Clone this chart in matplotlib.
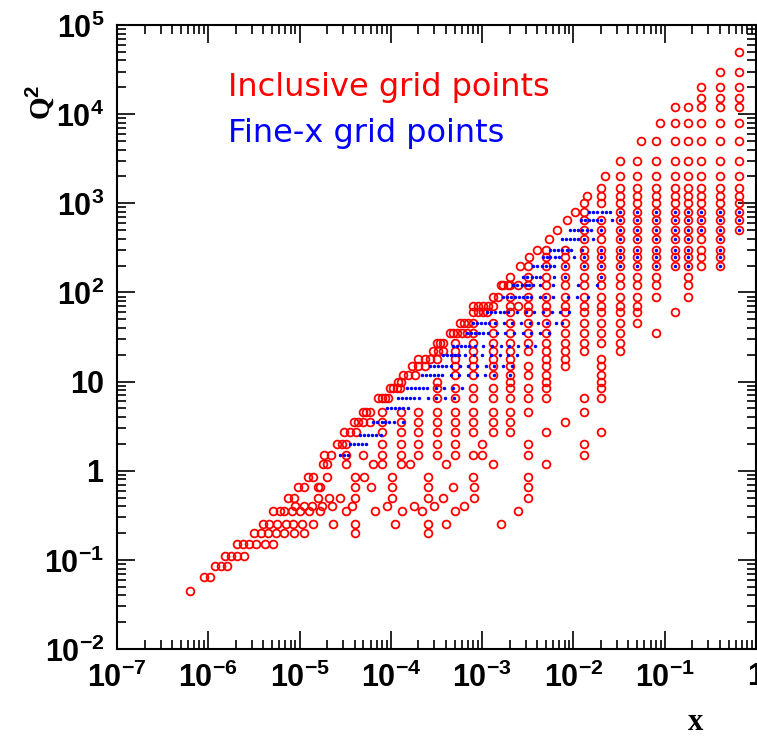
import numpy as np
import matplotlib
matplotlib.use("Agg")
import matplotlib.pyplot as plt
from matplotlib.ticker import LogLocator, NullFormatter, FuncFormatter

plt.rcParams['mathtext.fontset'] = 'custom'
plt.rcParams['mathtext.rm'] = 'Liberation Sans:bold'
plt.rcParams['mathtext.bf'] = 'Liberation Sans:bold'
plt.rcParams['mathtext.it'] = 'Liberation Sans:bold'

# inclusive grid: one Q2 row and the x values read on that row
incl_q2 = [50000, 30000, 20000, 15000, 12000, 8000, 5000, 3000, 2000, 1500,
           1200, 1000, 800, 650, 500, 400, 300, 250, 200, 150,
           120, 90, 70, 60, 45, 35, 27, 22, 18, 15,
           12, 10, 8.5, 6.5, 4.5, 3.5, 2.7, 2, 1.5, 1.2,
           0.85, 0.65, 0.5, 0.4, 0.35, 0.25, 0.2, 0.15, 0.11, 0.085,
           0.065, 0.045]
incl_x = [
    [0.65],
    [0.40, 0.65],
    [0.25, 0.40, 0.65],
    [0.25, 0.40, 0.65],
    [0.13, 0.18, 0.25, 0.40, 0.65],
    [0.088, 0.13, 0.18, 0.25, 0.40, 0.65],
    [0.055, 0.08, 0.13, 0.18, 0.25, 0.40, 0.65],
    [0.032, 0.05, 0.08, 0.13, 0.18, 0.25, 0.40, 0.65],
    [0.022, 0.032, 0.05, 0.08, 0.13, 0.18, 0.25, 0.40, 0.65],
    [0.02, 0.032, 0.05, 0.08, 0.13, 0.18, 0.25, 0.40, 0.65],
    [0.014, 0.02, 0.032, 0.05, 0.08, 0.13, 0.18, 0.25, 0.40, 0.65],
    [0.013, 0.02, 0.032, 0.05, 0.08, 0.13, 0.18, 0.25, 0.40, 0.65],
    [0.0105, 0.013, 0.032, 0.05, 0.08, 0.13, 0.18, 0.25, 0.40, 0.65],
    [0.0086, 0.013, 0.02, 0.032, 0.05, 0.08, 0.13, 0.18, 0.25, 0.40, 0.65],
    [0.0066, 0.013, 0.02, 0.032, 0.05, 0.08, 0.13, 0.18, 0.25, 0.40, 0.65],
    [0.0054, 0.013, 0.02, 0.032, 0.05, 0.08, 0.13, 0.18, 0.25, 0.40],
    [0.004, 0.005, 0.008, 0.013, 0.02, 0.032, 0.05, 0.08, 0.13, 0.18, 0.25, 0.40],
    [0.0033, 0.005, 0.008, 0.013, 0.02, 0.032, 0.05, 0.08, 0.13, 0.18, 0.25, 0.40],
    [0.0026, 0.0032, 0.005, 0.008, 0.013, 0.02, 0.032, 0.05, 0.08, 0.13, 0.18, 0.25, 0.40],
    [0.002, 0.0032, 0.005, 0.008, 0.013, 0.02, 0.032, 0.05, 0.08, 0.18],
    [0.0016, 0.0017, 0.0019, 0.002, 0.0025, 0.0032, 0.005, 0.008, 0.013, 0.02, 0.032, 0.05, 0.08, 0.18],
    [0.0013, 0.0015, 0.002, 0.0032, 0.005, 0.008, 0.013, 0.02, 0.032, 0.05, 0.08, 0.18],
    [8.0e-4, 9.0e-4, 1.02e-3, 1.16e-3, 1.3e-3, 2e-3, 2.5e-3, 3.2e-3, 5e-3, 8e-3, 0.013, 0.02, 0.032, 0.05],
    [8.0e-4, 9.0e-4, 1.01e-3, 1.13e-3, 2e-3, 3.2e-3, 5e-3, 8e-3, 0.013, 0.02, 0.032, 0.05, 0.13],
    [5.7e-4, 6.35e-4, 7.0e-4, 8.0e-4, 1.3e-3, 2e-3, 3.2e-3, 5e-3, 8e-3, 0.013, 0.02, 0.032, 0.05],
    [4.4e-4, 4.8e-4, 5.25e-4, 6.0e-4, 6.8e-4, 8e-4, 1.3e-3, 2e-3, 3.2e-3, 5e-3, 8e-3, 0.013, 0.02, 0.032, 0.08],
    [3.2e-4, 3.45e-4, 3.75e-4, 5e-4, 8e-4, 1.3e-3, 2e-3, 3.2e-3, 5e-3, 8e-3, 0.013, 0.02, 0.032],
    [2.9e-4, 3.3e-4, 3.75e-4, 5e-4, 8e-4, 1.3e-3, 2e-3, 3.2e-3, 5e-3, 8e-3, 0.013, 0.032],
    [2.0e-4, 2.36e-4, 2.68e-4, 3.2e-4, 5e-4, 8e-4, 1.3e-3, 2e-3, 5e-3, 8e-3, 0.02],
    [1.7e-4, 2.0e-4, 2.36e-4, 5e-4, 8e-4, 1.3e-3, 2e-3, 3.2e-3, 5e-3, 8e-3, 0.02],
    [1.37e-4, 1.55e-4, 1.84e-4, 5e-4, 8e-4, 1.3e-3, 2e-3, 3.2e-3, 5e-3, 0.02],
    [1.2e-4, 1.3e-4, 3.2e-4, 2e-3, 5e-3, 0.02],
    [9.8e-5, 1.06e-4, 1.16e-4, 1.26e-4, 3.2e-4, 5e-4, 8e-4, 1.3e-3, 2e-3, 3.2e-3, 5e-3, 0.02],
    [7.3e-5, 7.9e-5, 8.6e-5, 9.4e-5, 3.2e-4, 5e-4, 8e-4, 1.3e-3, 2e-3, 3.2e-3, 5e-3, 0.013, 0.02],
    [5.0e-5, 5.4e-5, 5.9e-5, 7.9e-5, 1.3e-4, 2e-4, 3.2e-4, 5e-4, 8e-4, 1.3e-3, 2e-3, 3.2e-3, 0.013],
    [3.9e-5, 4.4e-5, 5.0e-5, 5.9e-5, 8e-5, 1.3e-4, 2e-4, 3.2e-4, 5e-4, 8e-4, 1.3e-3, 2e-3, 8e-3],
    [3.1e-5, 3.6e-5, 4.2e-5, 8e-5, 1.3e-4, 2e-4, 3.2e-4, 5e-4, 8e-4, 1.3e-3, 2e-3, 5e-3, 0.02],
    [2.55e-5, 2.9e-5, 3.2e-5, 8e-5, 1.3e-4, 2e-4, 3.2e-4, 5e-4, 1.0e-3, 3.2e-3, 0.013],
    [1.87e-5, 2.2e-5, 3.2e-5, 5e-5, 8e-5, 1.3e-4, 2e-4, 3.2e-4, 5e-4, 8e-4, 1.0e-3, 3.2e-3, 0.013],
    [1.8e-5, 2.0e-5, 3.2e-5, 6.4e-5, 8e-5, 1.3e-4, 1.6e-4, 4.0e-4, 1.3e-3, 5e-3],
    [1.25e-5, 1.4e-5, 2.0e-5, 4.05e-5, 5.1e-5, 1.02e-4, 2.55e-4, 8.0e-4, 3.2e-3],
    [9.7e-6, 1.13e-5, 1.6e-5, 1.67e-5, 4.05e-5, 6.05e-5, 1.02e-4, 2.55e-4, 4.8e-4, 8.1e-4, 3.2e-3],
    [7.4e-6, 8.7e-6, 1.6e-5, 2.1e-5, 2.8e-5, 4.05e-5, 1.02e-4, 2.55e-4, 3.75e-4, 8.1e-4, 3.2e-3],
    [9.0e-6, 1.12e-5, 1.36e-5, 1.74e-5, 2.24e-5, 3.75e-5, 9.0e-5, 1.8e-4, 2.96e-4, 6.4e-4],
    [5.15e-6, 6.1e-6, 6.75e-6, 8.3e-6, 1.01e-5, 1.28e-5, 1.67e-5, 3.2e-5, 6.75e-5, 1.32e-4, 2.2e-4, 5.1e-4, 2.5e-3],
    [4.0e-6, 4.65e-6, 5.6e-6, 7.05e-6, 8.5e-6, 1.07e-5, 1.39e-5, 2.34e-5, 4.05e-5, 1.11e-4, 2.55e-4, 4.0e-4, 1.6e-3],
    [3.17e-6, 3.78e-6, 4.5e-6, 5.55e-6, 6.8e-6, 8.6e-6, 1.11e-5, 4.05e-5, 2.55e-4],
    [2.08e-6, 2.38e-6, 2.79e-6, 3.3e-6, 4.18e-6, 5.07e-6],
    [1.52e-6, 1.76e-6, 2.05e-6, 2.46e-6],
    [1.18e-6, 1.37e-6, 1.59e-6],
    [9.0e-7, 1.04e-6],
    [6.3e-7],
]

# fine-x grid: one Q2 row and the x values read on that row
fine_q2 = [800, 650, 500, 400, 300, 250, 200, 150, 120, 90, 60, 45, 35, 25,
           20, 15, 12, 8.5, 6.5, 5, 3.5, 2.5, 2, 1.5]
fine_x = [
    [0.0149, 0.0165, 0.0182, 0.0204, 0.0227, 0.0251, 0.032, 0.05, 0.08, 0.13, 0.18, 0.25, 0.40, 0.65],
    [0.0121, 0.0134, 0.0149, 0.0165, 0.0182, 0.02, 0.0264, 0.032, 0.05, 0.08, 0.13, 0.18, 0.25, 0.40, 0.65],
    [0.0092, 0.0101, 0.0113, 0.0125, 0.0139, 0.0154, 0.02, 0.032, 0.05, 0.08, 0.13, 0.18, 0.25, 0.40, 0.65],
    [0.0074, 0.0082, 0.0092, 0.0101, 0.0113, 0.013, 0.0162, 0.032, 0.05, 0.08, 0.13, 0.18, 0.40],
    [0.0055, 0.0061, 0.0068, 0.0075, 0.0084, 0.0093, 0.0123, 0.02, 0.032, 0.05, 0.08, 0.13, 0.18, 0.40],
    [0.0046, 0.0051, 0.0056, 0.0063, 0.0070, 0.0101, 0.013, 0.02, 0.032, 0.05, 0.08, 0.13, 0.18, 0.40],
    [0.0036, 0.0040, 0.0045, 0.0050, 0.0055, 0.0061, 0.008, 0.013, 0.02, 0.032, 0.05, 0.08, 0.13, 0.18, 0.40],
    [0.0028, 0.0031, 0.0035, 0.0039, 0.0043, 0.0061, 0.008, 0.02],
    [0.0022, 0.0024, 0.0027, 0.0030, 0.0033, 0.0036, 0.0043, 0.0060, 0.0113, 0.018],
    [0.00168, 0.00186, 0.00205, 0.00227, 0.00251, 0.00278, 0.00307, 0.0034, 0.0043, 0.00485, 0.0060, 0.00875, 0.0108, 0.0145],
    [0.00112, 0.00125, 0.00139, 0.00155, 0.00173, 0.00193, 0.00241, 0.0030, 0.00372, 0.00463, 0.00578, 0.00717, 0.00894],
    [0.000797, 0.000885, 0.000976, 0.00108, 0.0012, 0.00138, 0.00172, 0.00214, 0.00266, 0.00331, 0.00411, 0.00512, 0.00637, 0.0075],
    [0.000676, 0.00075, 0.000828, 0.000915, 0.00101, 0.00116, 0.00144, 0.00179, 0.00223, 0.00278, 0.00345, 0.0043, 0.00535],
    [0.000482, 0.000533, 0.00059, 0.000653, 0.000722, 0.000828, 0.00103, 0.00128, 0.0016, 0.00198, 0.00247, 0.00307, 0.00382],
    [0.000375, 0.000415, 0.000459, 0.000508, 0.000561, 0.000648, 0.000805, 0.001, 0.00125, 0.00155, 0.00193, 0.00241],
    [0.000268, 0.000296, 0.000328, 0.000363, 0.000401, 0.000455, 0.000567, 0.000704, 0.000878, 0.00109, 0.00136, 0.00169, 0.0021],
    [0.000217, 0.000241, 0.000266, 0.000294, 0.000326, 0.000363, 0.000452, 0.000561, 0.000698, 0.00087, 0.00108, 0.00135, 0.002],
    [0.000149, 0.000165, 0.000182, 0.000202, 0.000223, 0.000249, 0.000309, 0.000384, 0.000479, 0.000597],
    [0.00012, 0.000133, 0.000147, 0.000163, 0.00018, 0.000203, 0.000253, 0.000314, 0.000391, 0.000487],
    [9.1e-5, 0.000101, 0.000112, 0.000124, 0.000137, 0.000155],
    [6.4e-5, 7.1e-5, 7.9e-5, 8.7e-5, 9.6e-5, 0.000108, 0.000135],
    [4.6e-5, 5.1e-5, 5.6e-5, 6.2e-5, 6.9e-5, 7.8e-5],
    [3.6e-5, 3.95e-5, 4.4e-5, 4.8e-5, 5.4e-5],
    [2.8e-5, 3.1e-5, 3.4e-5],
]

# flatten the rows into point lists
incl_px = [x for q, row in zip(incl_q2, incl_x) for x in row]
incl_py = [q for q, row in zip(incl_q2, incl_x) for x in row]
fine_px = [x for q, row in zip(fine_q2, fine_x) for x in row]
fine_py = [q for q, row in zip(fine_q2, fine_x) for x in row]

fig = plt.figure(figsize=(7.57, 7.36), dpi=100)
ax = fig.add_axes([0.1546, 0.1182, 0.8441, 0.8478])

ax.plot(incl_px, incl_py, linestyle='none', marker='o', ms=5.6,
        mfc='none', mec='red', mew=1.3)
ax.plot(fine_px, fine_py, linestyle='none', marker='o', ms=2.5,
        color='blue', mew=0)

ax.set_xscale('log')
ax.set_yscale('log')
ax.set_xlim(1e-7, 1)
ax.set_ylim(1e-2, 1e5)


def pow_label(v, pos):
    e = int(round(np.log10(v)))
    if e == 0:
        return '$\\mathbf{1}$'
    if e == 1:
        return '$\\mathbf{10}$'
    return '$\\mathbf{10^{%d}}$' % e


ax.xaxis.set_major_locator(LogLocator(base=10, numticks=20))
ax.yaxis.set_major_locator(LogLocator(base=10, numticks=20))
ax.xaxis.set_minor_locator(LogLocator(base=10, subs=np.arange(2, 10), numticks=20))
ax.yaxis.set_minor_locator(LogLocator(base=10, subs=np.arange(2, 10), numticks=20))
ax.xaxis.set_major_formatter(FuncFormatter(pow_label))
ax.yaxis.set_major_formatter(FuncFormatter(pow_label))
ax.xaxis.set_minor_formatter(NullFormatter())
ax.yaxis.set_minor_formatter(NullFormatter())

ax.tick_params(which='both', direction='in', top=True, right=True,
               labelsize=22, width=1.2)
ax.tick_params(which='major', length=13, pad=9)
ax.tick_params(which='minor', length=6.5)
for s in ax.spines.values():
    s.set_linewidth(1.5)

fig.text(40 / 757, 1 - 102 / 736, 'Q$^{2}$', rotation=90, fontsize=21,
         family='Liberation Serif', fontweight='bold', ha='center', va='center')
fig.text(695 / 757, 1 - 722 / 736, 'x', fontsize=22,
         family='Liberation Serif', fontweight='bold', ha='center', va='center')

fig.text(228 / 757, 1 - 96 / 736, 'Inclusive grid points', color='red',
         fontsize=23, ha='left', va='baseline')
fig.text(228 / 757, 1 - 142 / 736, 'Fine-x grid points', color='blue',
         fontsize=23, ha='left', va='baseline')

fig.savefig('out.png', dpi=100)
